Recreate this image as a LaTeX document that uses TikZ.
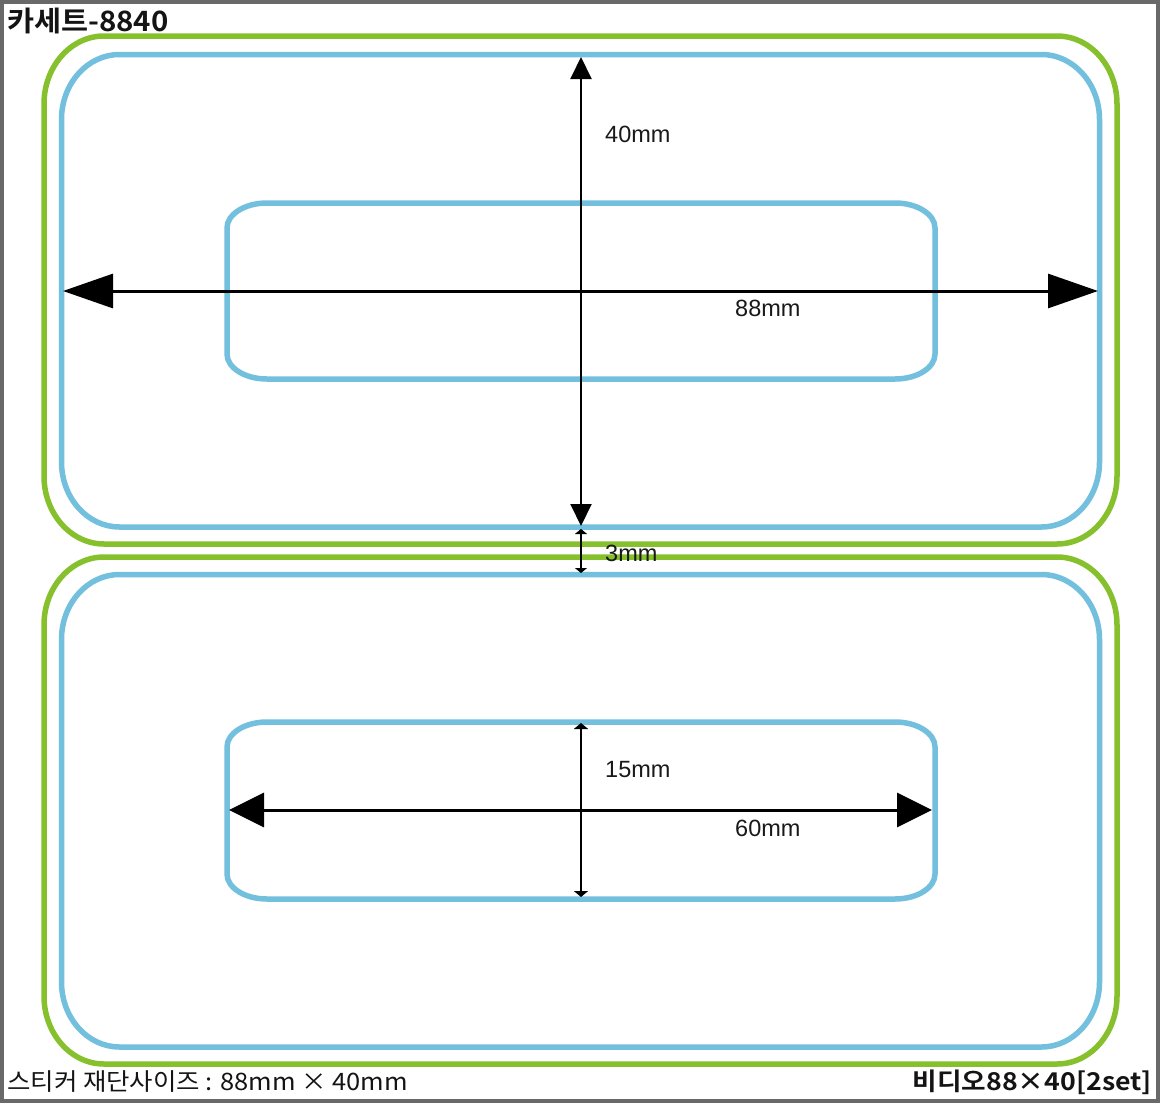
\documentclass[tikz,border=0pt]{standalone}
\usepackage{fontspec}
\usepackage{graphicx}
\setmainfont{Liberation Sans}
\newfontfamily\krfont{Noto Sans CJK KR}
\newfontfamily\krbold{Noto Sans CJK KR Bold}
\usetikzlibrary{arrows.meta}
\definecolor{lgreen}{RGB}{134,192,45}
\definecolor{lblue}{RGB}{114,192,221}
\definecolor{frame}{RGB}{105,105,105}
\newcommand{\ovalrect}[7]{%
  \draw[#1] (#2+#6,#3) -- (#4-#6,#3)
    arc[start angle=270,end angle=360,x radius=#6,y radius=#7]
    -- (#4,#5-#7)
    arc[start angle=0,end angle=90,x radius=#6,y radius=#7]
    -- (#2+#6,#5)
    arc[start angle=90,end angle=180,x radius=#6,y radius=#7]
    -- (#2,#3+#7)
    arc[start angle=180,end angle=270,x radius=#6,y radius=#7]
    -- cycle;}
\tikzset{
  greenline/.style={draw=lgreen,line width=5.5pt},
  blueline/.style={draw=lblue,line width=5.5pt},
  bigdim/.style={line width=3pt,{Triangle[length=50pt,width=34pt]}-{Triangle[length=50pt,width=34pt]}},
  middim/.style={line width=3pt,{Triangle[length=35pt,width=34pt]}-{Triangle[length=35pt,width=34pt]}},
  vdim/.style={line width=2pt,{Triangle[length=22pt,width=21pt]}-{Triangle[length=22pt,width=21pt]}},
  smalldim/.style={line width=1.6pt,{Triangle[length=6pt,width=14pt]}-{Triangle[length=6pt,width=14pt]}},
  tinydim/.style={line width=1.4pt,{Triangle[length=5pt,width=12pt]}-{Triangle[length=5pt,width=12pt]}},
  dimlabel/.style={anchor=west,inner sep=0pt,font=\fontsize{23.5}{26}\selectfont,text=black!90},
  krtext/.style={inner sep=0pt,text=black!92},
}
\begin{document}
\begin{tikzpicture}[x=1pt,y=-1pt]
\useasboundingbox (0,0) rectangle (1160,1103);
\fill[white] (0,0) rectangle (1160,1103);
\draw[frame,line width=4pt] (2,2) rectangle (1158,1101);
% upper label
\ovalrect{greenline}{44}{36}{1117}{544}{60}{68}
\ovalrect{blueline}{61.5}{54.5}{1099.5}{527}{58}{65}
\ovalrect{blueline}{227}{203}{935}{379}{40}{25}
% lower label
\ovalrect{greenline}{44}{557}{1117}{1064}{60}{68}
\ovalrect{blueline}{61.5}{574.5}{1099.5}{1047}{58}{65}
\ovalrect{blueline}{227}{722}{935}{899}{40}{25}
% dimension end points
\coordinate (hL) at (63,291);
\coordinate (hR) at (1098,291);
\coordinate (vT) at (581,57);
\coordinate (vB) at (581,526);
\coordinate (gT) at (581,529);
\coordinate (gB) at (581,573);
\coordinate (iT) at (581,723);
\coordinate (iB) at (581,897);
\coordinate (iL) at (229,810);
\coordinate (iR) at (932,810);
\draw[bigdim] (hL) -- (hR);
\draw[vdim] (vT) -- (vB);
\draw[tinydim] (gT) -- (gB);
\draw[middim] (iL) -- (iR);
\draw[smalldim] (iT) -- (iB);
% labels
\node[dimlabel] (l40) at (605,134) {40mm};
\node[dimlabel] (l88) at (735,308) {88mm};
\node[dimlabel] (l3) at (605,553) {3mm};
\node[dimlabel] (l15) at (605,770) {15mm};
\node[dimlabel] (l60) at (735,828) {60mm};
\node[krtext,anchor=west,font=\krbold\fontsize{28}{30}\selectfont] (title) at (7,21) {\scalebox{1.05}[1]{카세트-8840}};
\node[krtext,anchor=west,font=\krfont\fontsize{24}{26}\selectfont] (size) at (7,1082) {\scalebox{1.06}[1]{스티커 재단사이즈 : 88mm × 40mm}};
\node[krtext,anchor=east,font=\krbold\fontsize{24.5}{26}\selectfont] (set) at (1152,1082) {\scalebox{1.09}[1]{비디오88×40[2set]}};
\end{tikzpicture}
\end{document}
